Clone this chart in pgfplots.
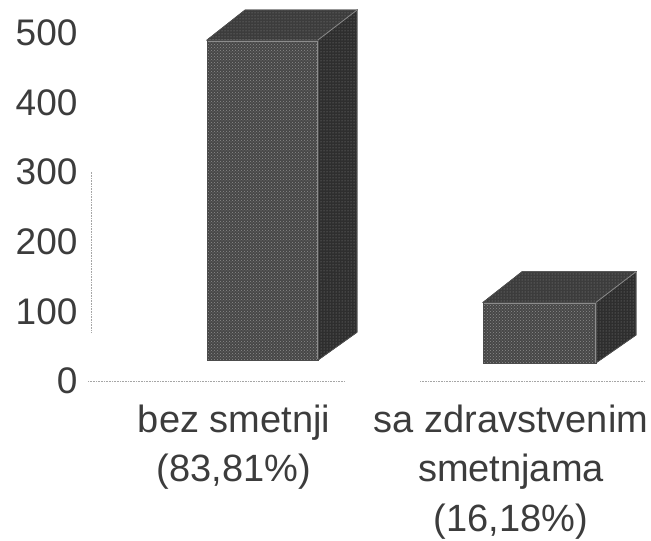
\documentclass[border=0pt]{standalone}
\usepackage{pgfplots}
\pgfplotsset{compat=1.18}
\usepackage{fontspec}
\setmainfont{Liberation Sans}
\usetikzlibrary{patterns}
\definecolor{ink}{HTML}{3C3C3C}
\definecolor{frontc}{HTML}{474747}
\definecolor{sidec}{HTML}{2E2E2E}
\definecolor{topc}{HTML}{3C3C3C}
\definecolor{speck}{HTML}{8C8C8C}
\begin{document}
\begin{tikzpicture}[x=1pt,y=1pt]
\useasboundingbox (-88,-160) rectangle (563,381);
\begin{axis}[
  at={(0,0)},anchor=south west,
  scale only axis,width=563pt,height=381pt,
  xmin=88,xmax=651,ymin=0,ymax=547.4,
  axis line style={draw=none},
  axis x line=bottom,axis y line=left,
  ytick={0,100,200,300,400,500},
  xtick={234,511},
  xticklabels={{bez smetnji\\(83,81\%)},{sa zdravstvenim\\smetnjama\\(16,18\%)}},
  xticklabel style={align=center,font=\fontsize{38}{49.5}\selectfont,text=ink,yshift=-20pt},
  yticklabel style={font=\fontsize{37}{40}\selectfont,text=ink,xshift=-7pt},
  /pgf/number format/assume math mode=true,
  tick style={draw=none},
  major tick length=0pt,
  clip=false,
]
% faint axes
\addplot[gray!70,line width=0.6pt,densely dotted] coordinates {(88,0)(345,0)};
\addplot[gray!70,line width=0.6pt,densely dotted] coordinates {(420,0)(645,0)};
\addplot[gray!70,line width=0.6pt,densely dotted] coordinates {(91,70)(91,300)};
% bar 1: top, side, front
\addplot[fill=topc,draw=black!70,line width=0.6pt,postaction={pattern=dots,pattern color=speck}] coordinates {(207,490)(245,533)(357,533)(318,490)} -- cycle;
\addplot[fill=sidec,draw=black!70,line width=0.6pt,postaction={pattern=dots,pattern color=speck}] coordinates {(318,490)(357,533)(357,70)(318,30)} -- cycle;
\addplot[fill=frontc,draw=black!70,line width=0.6pt,postaction={pattern=crosshatch dots,pattern color=speck}] coordinates {(207,490)(318,490)(318,30)(207,30)} -- cycle;
\addplot[speck,line width=0.9pt] coordinates {(208,488)(317,488)(317,32)};
\addplot[speck,line width=0.7pt] coordinates {(318,490)(357,533)};
% bar 2
\addplot[fill=topc,draw=black!70,line width=0.6pt,postaction={pattern=dots,pattern color=speck}] coordinates {(483,113)(522,157)(636,157)(596,113)} -- cycle;
\addplot[fill=sidec,draw=black!70,line width=0.6pt,postaction={pattern=dots,pattern color=speck}] coordinates {(596,113)(636,157)(636,66)(596,26)} -- cycle;
\addplot[fill=frontc,draw=black!70,line width=0.6pt,postaction={pattern=crosshatch dots,pattern color=speck}] coordinates {(483,113)(596,113)(596,26)(483,26)} -- cycle;
\addplot[speck,line width=0.9pt] coordinates {(484,111)(595,111)(595,28)};
\addplot[speck,line width=0.7pt] coordinates {(596,113)(636,157)};
\end{axis}
\end{tikzpicture}
\end{document}
